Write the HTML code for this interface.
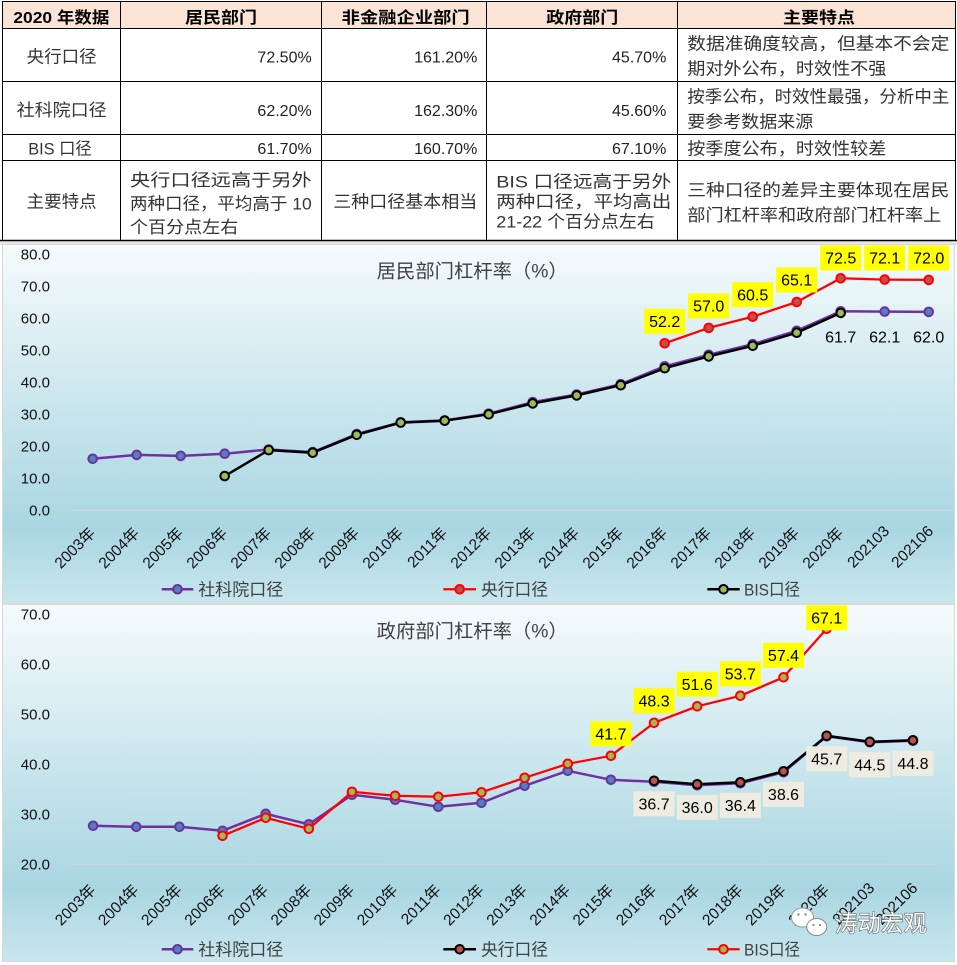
<!DOCTYPE html>
<html><head><meta charset="utf-8"><style>
html,body{margin:0;padding:0;background:#fff;}
svg{display:block;}
text{font-family:"Liberation Sans","Noto Sans CJK SC",sans-serif;}
.t{font-size:17px;fill:#333;}
.h{font-size:16px;font-weight:bold;fill:#000;}
.n{font-size:16px;fill:#222;}
.ya{font-size:15px;fill:#111;text-anchor:end;}
.xa{font-size:15.5px;fill:#111;text-anchor:end;}
.lg{font-size:17px;fill:#404040;}
.ttl{font-size:19px;fill:#404040;}
.dl{font-size:16px;fill:#000;text-anchor:middle;}
</style></head><body>
<svg width="957" height="965" viewBox="0 0 957 965" xmlns="http://www.w3.org/2000/svg">
<defs>
<linearGradient id="bg" x1="0" y1="0" x2="0" y2="1">
<stop offset="0" stop-color="#f5fafc"/>
<stop offset="0.79" stop-color="#a9d6e2"/>
<stop offset="1" stop-color="#c9e6ee"/>
</linearGradient>
</defs>
<rect x="0" y="0" width="957" height="965" fill="#fff"/>
<rect x="0" y="241" width="957" height="4" fill="#e6e6e6"/>

<!-- TABLE -->
<rect x="2.5" y="1.5" width="953" height="27" fill="#fbe4d5"/>
<g stroke="#000" stroke-width="1" fill="none">
<rect x="2.5" y="1.5" width="953" height="239"/>
<line x1="2.5" y1="28.5" x2="955.5" y2="28.5"/>
<line x1="2.5" y1="81.5" x2="955.5" y2="81.5"/>
<line x1="2.5" y1="134.5" x2="955.5" y2="134.5"/>
<line x1="2.5" y1="160.5" x2="955.5" y2="160.5"/>
<line x1="120.5" y1="1.5" x2="120.5" y2="240.5"/>
<line x1="321.5" y1="1.5" x2="321.5" y2="240.5"/>
<line x1="486.5" y1="1.5" x2="486.5" y2="240.5"/>
<line x1="677.5" y1="1.5" x2="677.5" y2="240.5"/>
</g>
<line x1="0" y1="240.5" x2="957" y2="240.5" stroke="#000" stroke-width="1.5"/>

<text class="h" x="13.3" y="23" textLength="96" lengthAdjust="spacingAndGlyphs">2020 年数据</text>
<text class="h" x="185" y="23" textLength="72" lengthAdjust="spacingAndGlyphs">居民部门</text>
<text class="h" x="341.7" y="23" textLength="128" lengthAdjust="spacingAndGlyphs">非金融企业部门</text>
<text class="h" x="546.3" y="23" textLength="72" lengthAdjust="spacingAndGlyphs">政府部门</text>
<text class="h" x="783" y="23" textLength="72" lengthAdjust="spacingAndGlyphs">主要特点</text>

<text class="t" x="26.7" y="62.5" textLength="70" lengthAdjust="spacingAndGlyphs">央行口径</text>
<text class="n" x="311.7" y="62.5" text-anchor="end">72.50%</text>
<text class="n" x="477.3" y="62.5" text-anchor="end">161.20%</text>
<text class="n" x="666.3" y="62.5" text-anchor="end">45.70%</text>
<text class="t" x="687.3" y="49.5" textLength="262" lengthAdjust="spacingAndGlyphs">数据准确度较高，但基本不会定</text>
<text class="t" x="687.3" y="74.5" textLength="199" lengthAdjust="spacingAndGlyphs">期对外公布，时效性不强</text>

<text class="t" x="16.7" y="116" textLength="90" lengthAdjust="spacingAndGlyphs">社科院口径</text>
<text class="n" x="311.7" y="115.8" text-anchor="end">62.20%</text>
<text class="n" x="477.3" y="115.8" text-anchor="end">162.30%</text>
<text class="n" x="666.3" y="115.8" text-anchor="end">45.60%</text>
<text class="t" x="687.3" y="102.7" textLength="262" lengthAdjust="spacingAndGlyphs">按季公布，时效性最强，分析中主</text>
<text class="t" x="687.3" y="127.7" textLength="126" lengthAdjust="spacingAndGlyphs">要参考数据来源</text>

<text class="t" x="28.3" y="154.3" textLength="63.4" lengthAdjust="spacingAndGlyphs">BIS 口径</text>
<text class="n" x="311.7" y="154" text-anchor="end">61.70%</text>
<text class="n" x="477.3" y="154" text-anchor="end">160.70%</text>
<text class="n" x="666.3" y="154" text-anchor="end">67.10%</text>
<text class="t" x="687.3" y="154.3" textLength="199" lengthAdjust="spacingAndGlyphs">按季度公布，时效性较差</text>

<text class="t" x="26.7" y="207.7" textLength="70" lengthAdjust="spacingAndGlyphs">主要特点</text>
<text class="t" x="130" y="186" textLength="181.7" lengthAdjust="spacingAndGlyphs">央行口径远高于另外</text>
<text class="t" x="130" y="209.3" textLength="181.7" lengthAdjust="spacingAndGlyphs">两种口径，平均高于 10</text>
<text class="t" x="130" y="233" textLength="108.3" lengthAdjust="spacingAndGlyphs">个百分点左右</text>
<text class="t" x="333.3" y="207.7" textLength="144" lengthAdjust="spacingAndGlyphs">三种口径基本相当</text>
<text class="t" x="496.3" y="187.7" textLength="175" lengthAdjust="spacingAndGlyphs">BIS  口径远高于另外</text>
<text class="t" x="496.3" y="207.7" textLength="175" lengthAdjust="spacingAndGlyphs">两种口径，平均高出</text>
<text class="t" x="496.3" y="227.5" textLength="158.4" lengthAdjust="spacingAndGlyphs">21-22 个百分点左右</text>
<text class="t" x="687.3" y="196" textLength="262" lengthAdjust="spacingAndGlyphs">三种口径的差异主要体现在居民</text>
<text class="t" x="687.3" y="221" textLength="254" lengthAdjust="spacingAndGlyphs">部门杠杆率和政府部门杠杆率上</text>

<!-- CHART 1 -->
<rect x="2.5" y="244.5" width="952" height="359" fill="url(#bg)" stroke="#d9d9d9" stroke-width="1"/>
<line x1="70.7" y1="510.3" x2="951.3" y2="510.3" stroke="#d9d9d9" stroke-width="1"/>
<text class="ttl" x="376.7" y="277.5" textLength="191" lengthAdjust="spacingAndGlyphs">居民部门杠杆率（%）</text>
<g>
<text class="ya" x="50" y="259.7">80.0</text>
<text class="ya" x="50" y="291.7">70.0</text>
<text class="ya" x="50" y="323.7">60.0</text>
<text class="ya" x="50" y="355.7">50.0</text>
<text class="ya" x="50" y="387.7">40.0</text>
<text class="ya" x="50" y="419.7">30.0</text>
<text class="ya" x="50" y="451.7">20.0</text>
<text class="ya" x="50" y="483.7">10.0</text>
<text class="ya" x="50" y="515.7">0.0</text>
</g>
<g>
<text class="xa" transform="translate(96.2,534) rotate(-45)">2003年</text>
<text class="xa" transform="translate(140.2,534) rotate(-45)">2004年</text>
<text class="xa" transform="translate(184.2,534) rotate(-45)">2005年</text>
<text class="xa" transform="translate(228.2,534) rotate(-45)">2006年</text>
<text class="xa" transform="translate(272.2,534) rotate(-45)">2007年</text>
<text class="xa" transform="translate(316.2,534) rotate(-45)">2008年</text>
<text class="xa" transform="translate(360.2,534) rotate(-45)">2009年</text>
<text class="xa" transform="translate(404.2,534) rotate(-45)">2010年</text>
<text class="xa" transform="translate(448.2,534) rotate(-45)">2011年</text>
<text class="xa" transform="translate(492.2,534) rotate(-45)">2012年</text>
<text class="xa" transform="translate(536.2,534) rotate(-45)">2013年</text>
<text class="xa" transform="translate(580.2,534) rotate(-45)">2014年</text>
<text class="xa" transform="translate(624.2,534) rotate(-45)">2015年</text>
<text class="xa" transform="translate(668.2,534) rotate(-45)">2016年</text>
<text class="xa" transform="translate(712.2,534) rotate(-45)">2017年</text>
<text class="xa" transform="translate(756.2,534) rotate(-45)">2018年</text>
<text class="xa" transform="translate(800.2,534) rotate(-45)">2019年</text>
<text class="xa" transform="translate(844.2,534) rotate(-45)">2020年</text>
<text class="xa" transform="translate(890.2,532) rotate(-45)">202103</text>
<text class="xa" transform="translate(934.2,532) rotate(-45)">202106</text>
</g>
<!-- purple 社科院 -->
<polyline fill="none" stroke="#7030a0" stroke-width="2.5" stroke-linejoin="round" points="92.7,458.8 136.7,454.9 180.7,455.9 224.7,453.7 268.7,449.5 312.7,452.1 356.7,434.1 400.7,422.3 444.7,420.4 488.7,413.7 532.7,402.1 576.7,394.5 620.7,384.2 664.7,366.3 708.7,354.8 752.7,344.2 796.7,330.8 840.7,311.3 884.7,311.6 928.7,311.9"/>
<g fill="#4f81bd" stroke="#7030a0" stroke-width="2">
<circle cx="92.7" cy="458.8" r="4.3"/><circle cx="136.7" cy="454.9" r="4.3"/><circle cx="180.7" cy="455.9" r="4.3"/><circle cx="224.7" cy="453.7" r="4.3"/><circle cx="268.7" cy="449.5" r="4.3"/><circle cx="312.7" cy="452.1" r="4.3"/><circle cx="356.7" cy="434.1" r="4.3"/><circle cx="400.7" cy="422.3" r="4.3"/><circle cx="444.7" cy="420.4" r="4.3"/><circle cx="488.7" cy="413.7" r="4.3"/><circle cx="532.7" cy="402.1" r="4.3"/><circle cx="576.7" cy="394.5" r="4.3"/><circle cx="620.7" cy="384.2" r="4.3"/><circle cx="664.7" cy="366.3" r="4.3"/><circle cx="708.7" cy="354.8" r="4.3"/><circle cx="752.7" cy="344.2" r="4.3"/><circle cx="796.7" cy="330.8" r="4.3"/><circle cx="840.7" cy="311.3" r="4.3"/><circle cx="884.7" cy="311.6" r="4.3"/><circle cx="928.7" cy="311.9" r="4.3"/>
</g>
<!-- red 央行 -->
<polyline fill="none" stroke="#ff0000" stroke-width="2.25" stroke-linejoin="round" points="664.7,343.3 708.7,327.9 752.7,316.7 796.7,302.0 840.7,278.3 884.7,279.6 928.7,279.9"/>
<g fill="#c0504d" stroke="#ff0000" stroke-width="2">
<circle cx="664.7" cy="343.3" r="4.3"/><circle cx="708.7" cy="327.9" r="4.3"/><circle cx="752.7" cy="316.7" r="4.3"/><circle cx="796.7" cy="302.0" r="4.3"/><circle cx="840.7" cy="278.3" r="4.3"/><circle cx="884.7" cy="279.6" r="4.3"/><circle cx="928.7" cy="279.9" r="4.3"/>
</g>
<!-- black BIS -->
<polyline fill="none" stroke="#000" stroke-width="2.5" stroke-linejoin="round" points="224.7,476.1 268.7,450.1 312.7,452.7 356.7,434.8 400.7,422.6 444.7,420.7 488.7,414.3 532.7,403.4 576.7,395.4 620.7,385.2 664.7,368.2 708.7,356.4 752.7,345.8 796.7,332.7 840.7,312.9"/>
<g fill="#9bbb59" stroke="#000" stroke-width="2">
<circle cx="224.7" cy="476.1" r="4.3"/><circle cx="268.7" cy="450.1" r="4.3"/><circle cx="312.7" cy="452.7" r="4.3"/><circle cx="356.7" cy="434.8" r="4.3"/><circle cx="400.7" cy="422.6" r="4.3"/><circle cx="444.7" cy="420.7" r="4.3"/><circle cx="488.7" cy="414.3" r="4.3"/><circle cx="532.7" cy="403.4" r="4.3"/><circle cx="576.7" cy="395.4" r="4.3"/><circle cx="620.7" cy="385.2" r="4.3"/><circle cx="664.7" cy="368.2" r="4.3"/><circle cx="708.7" cy="356.4" r="4.3"/><circle cx="752.7" cy="345.8" r="4.3"/><circle cx="796.7" cy="332.7" r="4.3"/><circle cx="840.7" cy="312.9" r="4.3"/>
</g>
<!-- labels chart 1 -->
<g fill="#ffff00">
<rect x="644.2" y="308.8" width="41" height="25"/>
<rect x="688.2" y="293.4" width="41" height="25"/>
<rect x="732.2" y="282.2" width="41" height="25"/>
<rect x="776.2" y="267.5" width="41" height="25"/>
<rect x="820.2" y="245.5" width="41" height="25"/>
<rect x="864.2" y="245.5" width="41" height="25"/>
<rect x="908.2" y="245.5" width="41" height="25"/>
</g>
<text class="dl" x="664.7" y="327">52.2</text>
<text class="dl" x="708.7" y="311.6">57.0</text>
<text class="dl" x="752.7" y="300.4">60.5</text>
<text class="dl" x="796.7" y="285.7">65.1</text>
<text class="dl" x="840.7" y="263.7">72.5</text>
<text class="dl" x="884.7" y="263.7">72.1</text>
<text class="dl" x="928.7" y="263.7">72.0</text>
<text class="dl" x="840.7" y="342.4">61.7</text>
<text class="dl" x="884.7" y="342.4">62.1</text>
<text class="dl" x="928.7" y="342.4">62.0</text>
<!-- legend 1 -->
<line x1="161.7" y1="589.3" x2="193.3" y2="589.3" stroke="#7030a0" stroke-width="2.5"/>
<circle cx="177.5" cy="589.3" r="4.3" fill="#4f81bd" stroke="#7030a0" stroke-width="2"/>
<text class="lg" x="198.3" y="595.5" textLength="85" lengthAdjust="spacingAndGlyphs">社科院口径</text>
<line x1="443.3" y1="589.3" x2="476" y2="589.3" stroke="#ff0000" stroke-width="2.25"/>
<circle cx="459.7" cy="589.3" r="4.3" fill="#c0504d" stroke="#ff0000" stroke-width="2"/>
<text class="lg" x="481" y="595.5" textLength="67" lengthAdjust="spacingAndGlyphs">央行口径</text>
<line x1="707.3" y1="589.3" x2="739.7" y2="589.3" stroke="#000" stroke-width="2.5"/>
<circle cx="723.5" cy="589.3" r="4.3" fill="#9bbb59" stroke="#000" stroke-width="2"/>
<text class="lg" x="744" y="595.5" textLength="56" lengthAdjust="spacingAndGlyphs">BIS口径</text>

<!-- CHART 2 -->
<rect x="2.5" y="604.5" width="952" height="357" fill="url(#bg)" stroke="#d9d9d9" stroke-width="1"/>
<line x1="71.5" y1="864.3" x2="934.5" y2="864.3" stroke="#d9d9d9" stroke-width="1"/>
<text class="ttl" x="376.7" y="637.5" textLength="191" lengthAdjust="spacingAndGlyphs">政府部门杠杆率（%）</text>
<g>
<text class="ya" x="50" y="619.7">70.0</text>
<text class="ya" x="50" y="669.7">60.0</text>
<text class="ya" x="50" y="719.7">50.0</text>
<text class="ya" x="50" y="769.7">40.0</text>
<text class="ya" x="50" y="819.7">30.0</text>
<text class="ya" x="50" y="869.7">20.0</text>
</g>
<g>
<text class="xa" transform="translate(96.6,891) rotate(-45)">2003年</text>
<text class="xa" transform="translate(139.75,891) rotate(-45)">2004年</text>
<text class="xa" transform="translate(182.9,891) rotate(-45)">2005年</text>
<text class="xa" transform="translate(226.05,891) rotate(-45)">2006年</text>
<text class="xa" transform="translate(269.2,891) rotate(-45)">2007年</text>
<text class="xa" transform="translate(312.35,891) rotate(-45)">2008年</text>
<text class="xa" transform="translate(355.5,891) rotate(-45)">2009年</text>
<text class="xa" transform="translate(398.65,891) rotate(-45)">2010年</text>
<text class="xa" transform="translate(441.8,891) rotate(-45)">2011年</text>
<text class="xa" transform="translate(484.95,891) rotate(-45)">2012年</text>
<text class="xa" transform="translate(528.1,891) rotate(-45)">2013年</text>
<text class="xa" transform="translate(571.25,891) rotate(-45)">2014年</text>
<text class="xa" transform="translate(614.4,891) rotate(-45)">2015年</text>
<text class="xa" transform="translate(657.55,891) rotate(-45)">2016年</text>
<text class="xa" transform="translate(700.7,891) rotate(-45)">2017年</text>
<text class="xa" transform="translate(743.85,891) rotate(-45)">2018年</text>
<text class="xa" transform="translate(787,891) rotate(-45)">2019年</text>
<text class="xa" transform="translate(830.15,891) rotate(-45)">2020年</text>
<text class="xa" transform="translate(875.3,889) rotate(-45)">202103</text>
<text class="xa" transform="translate(918.45,889) rotate(-45)">202106</text>
</g>
<!-- purple -->
<polyline fill="none" stroke="#7030a0" stroke-width="2.5" stroke-linejoin="round" points="93.1,825.8 136.25,826.8 179.4,826.8 222.55,830.8 265.7,813.8 308.85,824.3 352,794.8 395.15,799.8 438.3,806.8 481.45,802.8 524.6,785.8 567.75,770.8 610.9,779.8 654.05,781.8 697.2,785.3 740.35,783.3 783.5,772.3 826.65,736.3 869.8,742.3 912.95,740.8"/>
<g fill="#4f81bd" stroke="#7030a0" stroke-width="2">
<circle cx="93.1" cy="825.8" r="4.3"/><circle cx="136.25" cy="826.8" r="4.3"/><circle cx="179.4" cy="826.8" r="4.3"/><circle cx="222.55" cy="830.8" r="4.3"/><circle cx="265.7" cy="813.8" r="4.3"/><circle cx="308.85" cy="824.3" r="4.3"/><circle cx="352" cy="794.8" r="4.3"/><circle cx="395.15" cy="799.8" r="4.3"/><circle cx="438.3" cy="806.8" r="4.3"/><circle cx="481.45" cy="802.8" r="4.3"/><circle cx="524.6" cy="785.8" r="4.3"/><circle cx="567.75" cy="770.8" r="4.3"/><circle cx="610.9" cy="779.8" r="4.3"/><circle cx="654.05" cy="781.8" r="4.3"/><circle cx="697.2" cy="785.3" r="4.3"/><circle cx="740.35" cy="783.3" r="4.3"/><circle cx="783.5" cy="772.3" r="4.3"/><circle cx="826.65" cy="736.3" r="4.3"/><circle cx="869.8" cy="742.3" r="4.3"/><circle cx="912.95" cy="740.8" r="4.3"/>
</g>
<!-- black 央行 -->
<polyline fill="none" stroke="#000" stroke-width="2.5" stroke-linejoin="round" points="654.05,780.8 697.2,784.3 740.35,782.3 783.5,771.3 826.65,735.8 869.8,741.8 912.95,740.3"/>
<g fill="#c0504d" stroke="#000" stroke-width="2">
<circle cx="654.05" cy="780.8" r="4.3"/><circle cx="697.2" cy="784.3" r="4.3"/><circle cx="740.35" cy="782.3" r="4.3"/><circle cx="783.5" cy="771.3" r="4.3"/><circle cx="826.65" cy="735.8" r="4.3"/><circle cx="869.8" cy="741.8" r="4.3"/><circle cx="912.95" cy="740.3" r="4.3"/>
</g>
<!-- red BIS -->
<polyline fill="none" stroke="#ff0000" stroke-width="2.25" stroke-linejoin="round" points="222.55,835.8 265.7,817.8 308.85,828.8 352,791.8 395.15,795.8 438.3,796.8 481.45,792.3 524.6,777.8 567.75,763.8 610.9,755.8 654.05,722.8 697.2,706.3 740.35,695.8 783.5,677.3 826.65,628.8"/>
<g fill="#9bbb59" stroke="#ff0000" stroke-width="2">
<circle cx="222.55" cy="835.8" r="4.3"/><circle cx="265.7" cy="817.8" r="4.3"/><circle cx="308.85" cy="828.8" r="4.3"/><circle cx="352" cy="791.8" r="4.3"/><circle cx="395.15" cy="795.8" r="4.3"/><circle cx="438.3" cy="796.8" r="4.3"/><circle cx="481.45" cy="792.3" r="4.3"/><circle cx="524.6" cy="777.8" r="4.3"/><circle cx="567.75" cy="763.8" r="4.3"/><circle cx="610.9" cy="755.8" r="4.3"/><circle cx="654.05" cy="722.8" r="4.3"/><circle cx="697.2" cy="706.3" r="4.3"/><circle cx="740.35" cy="695.8" r="4.3"/><circle cx="783.5" cy="677.3" r="4.3"/><circle cx="826.65" cy="628.8" r="4.3"/>
</g>
<!-- labels chart 2 -->
<g fill="#ffff00">
<rect x="590.4" y="721.3" width="41" height="25"/>
<rect x="633.55" y="688.3" width="41" height="25"/>
<rect x="676.7" y="671.8" width="41" height="25"/>
<rect x="719.85" y="661.3" width="41" height="25"/>
<rect x="763" y="642.8" width="41" height="25"/>
<rect x="806.15" y="605.3" width="41" height="25"/>
</g>
<text class="dl" x="610.9" y="739.5">41.7</text>
<text class="dl" x="654.05" y="706.5">48.3</text>
<text class="dl" x="697.2" y="690">51.6</text>
<text class="dl" x="740.35" y="679.5">53.7</text>
<text class="dl" x="783.5" y="661">57.4</text>
<text class="dl" x="826.65" y="623.5">67.1</text>
<g fill="#eeece1">
<rect x="633.55" y="791.3" width="41" height="25"/>
<rect x="676.7" y="794.8" width="41" height="25"/>
<rect x="719.85" y="792.8" width="41" height="25"/>
<rect x="763" y="781.8" width="41" height="25"/>
<rect x="806.15" y="746.3" width="41" height="25"/>
<rect x="849.3" y="752.3" width="41" height="25"/>
<rect x="892.45" y="750.8" width="41" height="25"/>
</g>
<text class="dl" x="654.05" y="809.5">36.7</text>
<text class="dl" x="697.2" y="813">36.0</text>
<text class="dl" x="740.35" y="811">36.4</text>
<text class="dl" x="783.5" y="800">38.6</text>
<text class="dl" x="826.65" y="764.5">45.7</text>
<text class="dl" x="869.8" y="770.5">44.5</text>
<text class="dl" x="912.95" y="769">44.8</text>
<!-- legend 2 -->
<line x1="161.7" y1="949.3" x2="193.3" y2="949.3" stroke="#7030a0" stroke-width="2.5"/>
<circle cx="177.5" cy="949.3" r="4.3" fill="#4f81bd" stroke="#7030a0" stroke-width="2"/>
<text class="lg" x="198.3" y="955.5" textLength="85" lengthAdjust="spacingAndGlyphs">社科院口径</text>
<line x1="443.3" y1="949.3" x2="476" y2="949.3" stroke="#000" stroke-width="2.5"/>
<circle cx="459.7" cy="949.3" r="4.3" fill="#c0504d" stroke="#000" stroke-width="2"/>
<text class="lg" x="481" y="955.5" textLength="67" lengthAdjust="spacingAndGlyphs">央行口径</text>
<line x1="707.3" y1="949.3" x2="739.7" y2="949.3" stroke="#ff0000" stroke-width="2.25"/>
<circle cx="723.5" cy="949.3" r="4.3" fill="#9bbb59" stroke="#ff0000" stroke-width="2"/>
<text class="lg" x="744" y="955.5" textLength="56" lengthAdjust="spacingAndGlyphs">BIS口径</text>

<!-- watermark -->
<g>
<ellipse cx="802.5" cy="917.5" rx="11" ry="9.5" fill="#fff" stroke="#9a9a9a" stroke-width="1"/>
<ellipse cx="816.7" cy="927" rx="10" ry="8.5" fill="#fff" stroke="#8a8a8a" stroke-width="1"/>
<circle cx="798.5" cy="914.5" r="1.2" fill="#888"/><circle cx="805.5" cy="914.5" r="1.2" fill="#888"/>
<circle cx="813.5" cy="925" r="1.1" fill="#888"/><circle cx="820" cy="925" r="1.1" fill="#888"/>
<text x="834.7" y="931" font-size="23" fill="#fff" stroke="#666" stroke-width="1.2" paint-order="stroke" textLength="92" lengthAdjust="spacingAndGlyphs" style="font-family:'Noto Sans CJK SC',sans-serif;">涛动宏观</text>
</g>
</svg>
</body></html>
